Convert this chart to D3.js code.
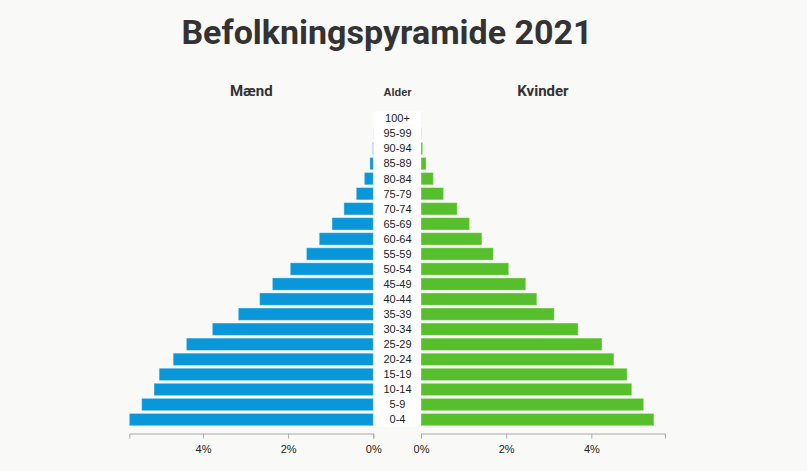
<!DOCTYPE html>
<html>
<head>
<meta charset="utf-8">
<script src="https://cdn.jsdelivr.net/npm/d3@7.9.0/dist/d3.min.js"></script>
<style>
    body { margin: 0; background: #f9f9f7; }
</style>
</head>
<body>
<div id="chart"></div>
<script>
// Age groups, bottom to top
const ages = ['0-4', '5-9', '10-14', '15-19', '20-24', '25-29', '30-34', '35-39', '40-44', '45-49',
    '50-54', '55-59', '60-64', '65-69', '70-74', '75-79', '80-84', '85-89', '90-94', '95-99', '100+'];

// Share of total population (%)
const men = [5.73, 5.44, 5.15, 5.03, 4.70, 4.39, 3.78, 3.17, 2.67, 2.37,
    1.95, 1.57, 1.27, 0.97, 0.69, 0.40, 0.21, 0.08, 0.015, 0.003, 0.0004];
const women = [5.47, 5.23, 4.95, 4.84, 4.53, 4.25, 3.69, 3.13, 2.72, 2.46,
    2.06, 1.70, 1.43, 1.14, 0.85, 0.53, 0.29, 0.12, 0.04, 0.006, 0.001];

const tickValues = [0, 2, 4];

const width = 807
const height = 471

const svg = d3.select('#chart')
    .append('svg')
    .attr('width', width)
    .attr('height', height)

const maxValue = d3.max(men.concat(women))

const leftX = d3.scaleLinear()
    .domain([0, maxValue])
    .range([373.3, 129.3])

const rightX = d3.scaleLinear()
    .domain([0, maxValue])
    .range([421, 665])

const y = d3.scaleBand()
    .domain(ages.slice().reverse())
    .range([111.5, 426.5])
    .paddingInner(0.18)
    .paddingOuter(0.05)

function placeTitles() {
    svg.append('text')
        .attr('x', 387)
        .attr('y', 44)
        .attr('text-anchor', 'middle')
        .attr('font-family', 'Roboto')
        .attr('font-weight', 'bold')
        .attr('font-size', 34)
        .attr('fill', '#333')
        .text('Befolkningspyramide 2021');

    svg.append('text')
        .attr('x', (leftX.range()[0] + leftX.range()[1]) / 2)
        .attr('y', 96)
        .attr('text-anchor', 'middle')
        .attr('font-family', 'Roboto')
        .attr('font-weight', 'bold')
        .attr('font-size', 15)
        .attr('fill', '#333')
        .text('Mænd');

    svg.append('text')
        .attr('x', (rightX.range()[0] + rightX.range()[1]) / 2)
        .attr('y', 96)
        .attr('text-anchor', 'middle')
        .attr('font-family', 'Roboto')
        .attr('font-weight', 'bold')
        .attr('font-size', 15)
        .attr('fill', '#333')
        .text('Kvinder');

    svg.append('text')
        .attr('x', 397.5)
        .attr('y', 96)
        .attr('text-anchor', 'middle')
        .attr('font-family', 'Liberation Sans, Arial')
        .attr('font-weight', 'bold')
        .attr('font-size', 11)
        .attr('fill', '#333')
        .text('Alder');
}

function placeBars() {
    // white column behind the age labels
    svg.append('rect')
        .attr('x', leftX(0))
        .attr('y', y.range()[0])
        .attr('width', rightX(0) - leftX(0))
        .attr('height', y.range()[1] - y.range()[0])
        .attr('fill', '#fff');

    svg.append('g')
        .selectAll('rect')
        .data(ages)
        .join('rect')
        .attr('x', (d, i) => leftX(men[i]))
        .attr('y', d => y(d))
        .attr('width', (d, i) => leftX(0) - leftX(men[i]))
        .attr('height', y.bandwidth())
        .attr('fill', '#0a97d9')
        .attr('stroke', 'rgba(255,255,255,0.35)')
        .attr('stroke-width', 1);

    svg.append('g')
        .selectAll('rect')
        .data(ages)
        .join('rect')
        .attr('x', rightX(0))
        .attr('y', d => y(d))
        .attr('width', (d, i) => rightX(women[i]) - rightX(0))
        .attr('height', y.bandwidth())
        .attr('fill', '#58bf2c')
        .attr('stroke', 'rgba(255,255,255,0.35)')
        .attr('stroke-width', 1);

    svg.append('g')
        .selectAll('text')
        .data(ages)
        .join('text')
        .attr('x', 397.5)
        .attr('y', d => y(d) + y.bandwidth() / 2)
        .attr('dy', '0.35em')
        .attr('text-anchor', 'middle')
        .attr('font-family', 'Liberation Sans, Arial')
        .attr('font-size', 11)
        .attr('fill', '#222')
        .text(d => d);
}

function placeAxes() {
    [leftX, rightX].forEach(scale => {
        const g = svg.append('g')
            .attr('transform', 'translate(0, 433.5)')
            .call(d3.axisBottom(scale)
                .tickValues(tickValues)
                .tickFormat(d => d + '%')
                .tickSize(5)
                .tickSizeOuter(5));

        g.selectAll('path, line')
            .attr('stroke', '#aaa');
        g.selectAll('text')
            .attr('font-family', 'Liberation Sans, Arial')
            .attr('font-size', 11)
            .attr('fill', '#222')
            .attr('y', 12);
    });
}

placeTitles();
placeBars();
placeAxes();
</script>
</body>
</html>
